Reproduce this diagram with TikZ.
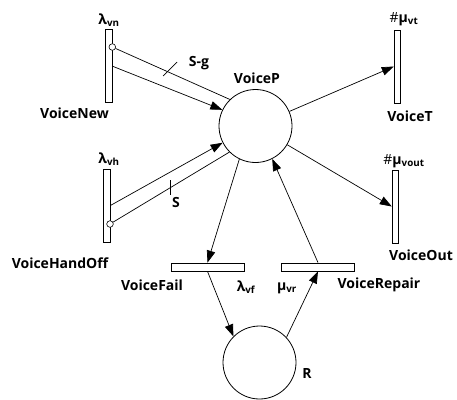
\documentclass[tikz,border=0pt]{standalone}
\usepackage{fontspec}
\setmainfont{Open Sans}
\usetikzlibrary{
  arrows.meta,
  positioning
}

\begin{document}
\begin{tikzpicture}[
      x=1pt,y=-1pt,
      place/.style={
         circle,
         draw,
         line width=0.8pt,
         minimum size=73pt,
         inner sep=0pt
      },
      vtrans/.style={
         rectangle,
         draw,
         line width=0.8pt,
         minimum width=6.6pt,
         minimum height=73pt,
         inner sep=0pt
      },
      htrans/.style={
         rectangle,
         draw,
         line width=0.8pt,
         minimum width=73pt,
         minimum height=8pt,
         inner sep=0pt
      },
      inhibit/.style={
         circle,
         draw,
         fill=white,
         line width=0.6pt,
         minimum size=6.6pt,
         inner sep=0pt
      },
      tag/.style={font=\bfseries\fontsize{14}{16}\selectfont, inner sep=0pt},
      flow/.style={line width=0.7pt, -{Triangle[length=12pt,width=8.5pt]}},
      inhline/.style={line width=0.7pt},
      multmark/.style={line width=0.7pt},
    ]
    \useasboundingbox (0,0) rectangle (457,399);
    % places
    \node (vp) [place] at (255.5,126) {};
    \node (r)  [place] at (259.5,362.5) {};
    % transitions
    \node (tvn) [vtrans] at (109,66.3) {};
    \node (tvh) [vtrans] at (106.7,205.5) {};
    \node (tvt) [vtrans] at (397.5,66.5) {};
    \node (tvo) [vtrans] at (395.5,206.5) {};
    \node (tvf) [htrans] at (207.5,267) {};
    \node (tvr) [htrans] at (318,267) {};
    \node (ivn) [inhibit] at (112.3,47) {};
    \node (ivh) [inhibit] at (110,224) {};
    % labels
    \node (lvp)  [tag] at (257,78) {VoiceP};
    \node (lr)   [tag] at (307,373) {R};
    \node (lvn)  [tag] at (74.5,113) {VoiceNew};
    \node (lvh)  [tag] at (60,263) {VoiceHandOff};
    \node (lvt)  [tag] at (410,116) {VoiceT};
    \node (lvo)  [tag] at (421,255) {VoiceOut};
    \node (lvf)  [tag] at (152,285) {VoiceFail};
    \node (lvr)  [tag] at (379,285) {VoiceRepair};
    \node (rvn)  [tag] at (109,20) {λ\textsubscript{vn}};
    \node (rvh)  [tag] at (109,159) {λ\textsubscript{vh}};
    \node (rvt)  [tag] at (404,19) {{\mdseries\#}μ\textsubscript{vt}};
    \node (rvo)  [tag] at (404,161) {{\mdseries\#}μ\textsubscript{vout}};
    \node (rvf)  [tag] at (246,287) {λ\textsubscript{vf}};
    \node (rvr)  [tag] at (287,288) {μ\textsubscript{vr}};
    \node (msg)  [tag] at (199,63) {S-g};
    \node (ms)   [tag] at (176,202) {S};
    % arcs
    \draw [flow] (tvn.east) -- (vp.154);
    \draw [inhline] (ivn) -- (vp.134);
    \draw [flow] (tvh.east) -- (vp.207.6);
    \draw [inhline] (ivh) -- (vp.225.5);
    \draw [flow] (vp) -- (tvt.west);
    \draw [flow] (vp) -- (tvo.west);
    \draw [flow] (vp.244) -- (tvf.north);
    \draw [flow] (tvf.south) -- (r.135);
    \draw [flow] (r.43) -- (tvr.south);
    \draw [flow] (tvr.north) -- (vp.297);
    % multiplicity marks
    \draw [multmark] (163,76) -- (177,62);
    \draw [multmark] (170,180) -- (170,195);
\end{tikzpicture}
\end{document}
